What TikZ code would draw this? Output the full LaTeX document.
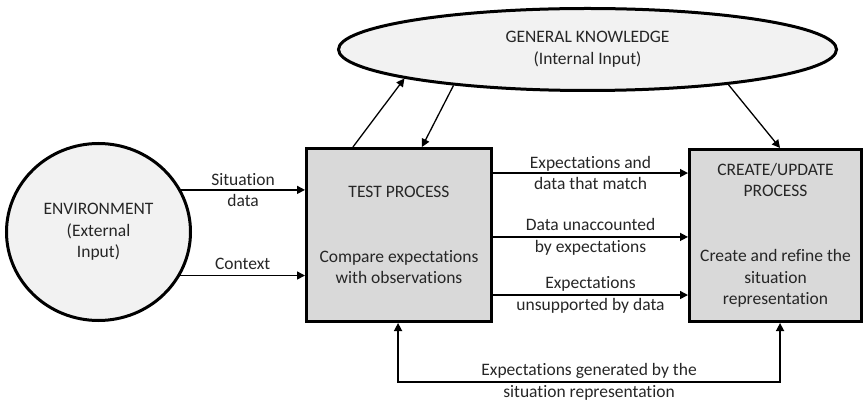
\documentclass[tikz,border=0pt]{standalone}
\usepackage{fontspec}
\setmainfont{Carlito}[Ligatures={NoCommon}]
\usetikzlibrary{shapes.geometric,arrows.meta,calc}
\definecolor{lightfill}{HTML}{F2F2F2}
\definecolor{boxfill}{HTML}{D9D9D9}
\definecolor{inkcol}{HTML}{262626}
\begin{document}
\begin{tikzpicture}[x=1pt,y=-1pt,
  font=\fontsize{17.5}{21.6}\selectfont,
  procbox/.style={draw=black, line width=3pt, fill=boxfill, align=center,
    inner sep=0pt, text=inkcol},
  source/.style={ellipse, draw=black, line width=3pt, fill=lightfill,
    align=center, inner sep=0pt, text=inkcol},
  arr/.style={line width=1.5pt, -{Triangle[length=8pt,width=8pt]}},
  biarr/.style={line width=1.5pt, {Triangle[length=8pt,width=8pt]}-{Triangle[length=8pt,width=8pt]}},
  lbl/.style={align=center, text=inkcol, inner sep=0pt}]
\useasboundingbox (0,0) rectangle (864,403);

% main nodes
\node[source, minimum width=184pt, minimum height=177pt] (env) at (98.5,232)
  {ENVIRONMENT\\(External\\Input)};
\node[source, minimum width=498pt, minimum height=82pt] (know) at (587.5,49.5)
  {GENERAL KNOWLEDGE\\(Internal Input)};
\node[procbox, minimum width=185pt, minimum height=173pt] (test) at (399,235)
  {TEST PROCESS\\[2\baselineskip]Compare expectations\\with observations};
\node[procbox, minimum width=172pt, minimum height=172pt] (create) at (775.5,235.5)
  {CREATE/UPDATE\\PROCESS\\[2\baselineskip]Create and refine the\\situation\\representation};

% environment to test process
\draw[arr] (env.27) -- node[lbl, midway] {Situation\\data} (env.27 -| test.west);
\draw[arr] (env.332.5) -- node[lbl, midway, above=5pt] {Context} (env.332.5 -| test.west);

% test process to create/update process
\coordinate (m1) at ($(test.north east)!0.148!(test.south east)$);
\coordinate (m2) at ($(test.north east)!0.511!(test.south east)$);
\coordinate (m3) at ($(test.north east)!0.841!(test.south east)$);
\draw[arr] (m1) -- node[lbl, midway] {Expectations and\\data that match} (m1 -| create.west);
\draw[arr] (m2) -- node[lbl, midway] {Data unaccounted\\by expectations} (m2 -| create.west);
\draw[arr] (m3) -- node[lbl, midway] {Expectations\\unsupported by data} (m3 -| create.west);

% exchanges with general knowledge
\coordinate (t1) at ($(test.north west)!0.255!(test.north east)$);
\coordinate (t2) at ($(test.north west)!0.622!(test.north east)$);
\coordinate (c1) at ($(create.north west)!0.526!(create.north east)$);
\draw[arr, line width=1.3pt] (t1) -- (know.189);
\draw[arr, line width=1.3pt] (know.195.5) -- (t2);
\draw[arr, line width=1.3pt] (know.346.3) -- (c1);

% feedback loop
\coordinate (tb) at ($(test.south west)!0.495!(test.south east)$);
\coordinate (cb) at ($(create.south west)!0.526!(create.south east)$);
\coordinate (loop) at ($(cb)+(0,59)$);
\draw[biarr] (cb) -- (loop) -- node[lbl, midway] {Expectations generated by the\\situation representation} (loop -| tb) -- (tb);
\end{tikzpicture}
\end{document}
